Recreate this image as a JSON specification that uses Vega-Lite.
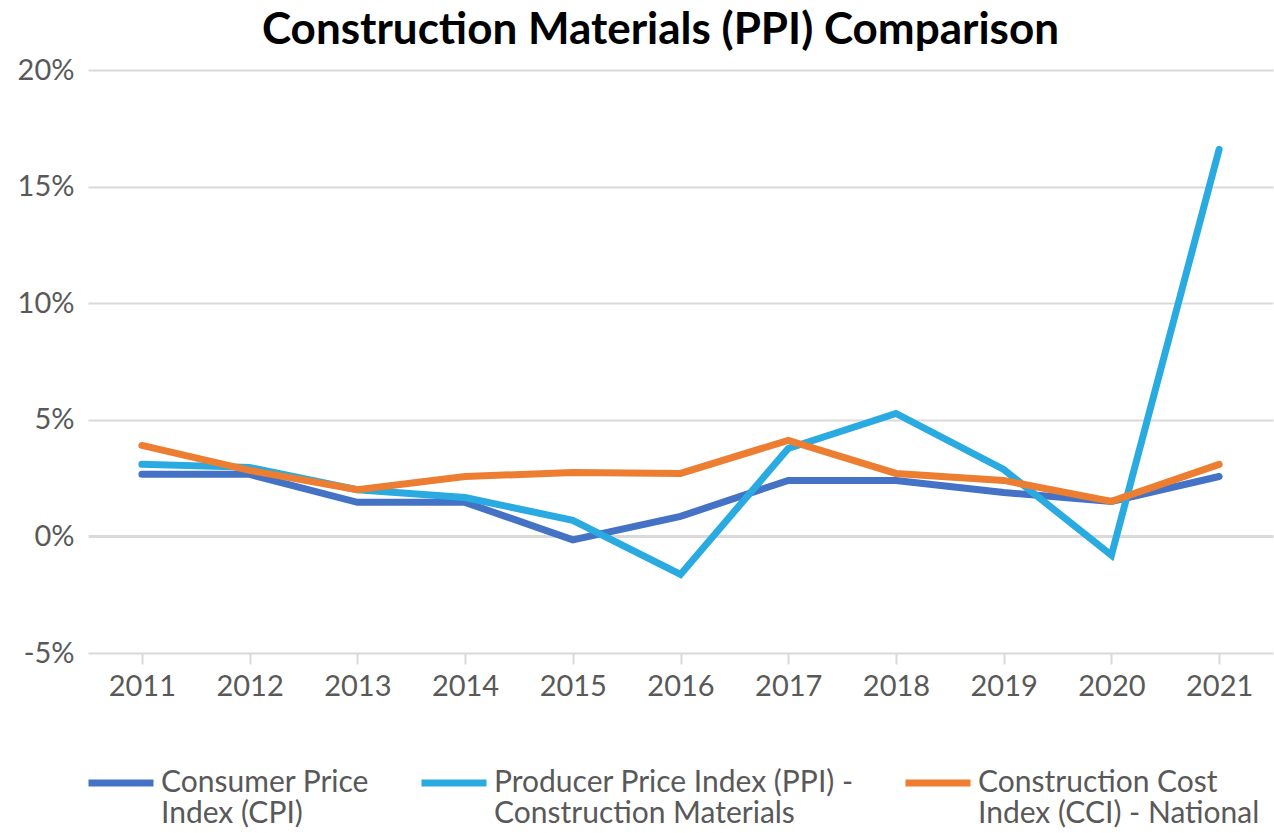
{
  "$schema": "https://vega.github.io/schema/vega-lite/v6.json",
  "width": 1185,
  "height": 583,
  "autosize": "none",
  "padding": {"left": 88, "top": 70, "right": 1, "bottom": 180},
  "background": "white",
  "config": {
    "view": {"stroke": null},
    "style": {"guide-label": {"lineHeight": 31}}
  },
  "title": {
    "text": "Construction Materials (PPI) Comparison",
    "font": "Lato",
    "fontSize": 44,
    "fontWeight": "bold",
    "color": "#000000",
    "anchor": "middle",
    "offset": 3,
    "dx": -20
  },
  "data": {
    "values": [
      {"year": "2011", "series": "Consumer Price|Index (CPI)", "value": 2.66},
      {"year": "2012", "series": "Consumer Price|Index (CPI)", "value": 2.66},
      {"year": "2013", "series": "Consumer Price|Index (CPI)", "value": 1.46},
      {"year": "2014", "series": "Consumer Price|Index (CPI)", "value": 1.46},
      {"year": "2015", "series": "Consumer Price|Index (CPI)", "value": -0.15},
      {"year": "2016", "series": "Consumer Price|Index (CPI)", "value": 0.86},
      {"year": "2017", "series": "Consumer Price|Index (CPI)", "value": 2.4},
      {"year": "2018", "series": "Consumer Price|Index (CPI)", "value": 2.4},
      {"year": "2019", "series": "Consumer Price|Index (CPI)", "value": 1.88},
      {"year": "2020", "series": "Consumer Price|Index (CPI)", "value": 1.5},
      {"year": "2021", "series": "Consumer Price|Index (CPI)", "value": 2.57},
      {"year": "2011", "series": "Producer Price Index (PPI) -|Construction Materials", "value": 3.09},
      {"year": "2012", "series": "Producer Price Index (PPI) -|Construction Materials", "value": 2.96},
      {"year": "2013", "series": "Producer Price Index (PPI) -|Construction Materials", "value": 2.0},
      {"year": "2014", "series": "Producer Price Index (PPI) -|Construction Materials", "value": 1.67},
      {"year": "2015", "series": "Producer Price Index (PPI) -|Construction Materials", "value": 0.69},
      {"year": "2016", "series": "Producer Price Index (PPI) -|Construction Materials", "value": -1.63},
      {"year": "2017", "series": "Producer Price Index (PPI) -|Construction Materials", "value": 3.77},
      {"year": "2018", "series": "Producer Price Index (PPI) -|Construction Materials", "value": 5.27},
      {"year": "2019", "series": "Producer Price Index (PPI) -|Construction Materials", "value": 2.87},
      {"year": "2020", "series": "Producer Price Index (PPI) -|Construction Materials", "value": -0.81},
      {"year": "2021", "series": "Producer Price Index (PPI) -|Construction Materials", "value": 16.6},
      {"year": "2011", "series": "Construction Cost|Index (CCI) - National", "value": 3.9},
      {"year": "2012", "series": "Construction Cost|Index (CCI) - National", "value": 2.83},
      {"year": "2013", "series": "Construction Cost|Index (CCI) - National", "value": 2.0},
      {"year": "2014", "series": "Construction Cost|Index (CCI) - National", "value": 2.57},
      {"year": "2015", "series": "Construction Cost|Index (CCI) - National", "value": 2.74},
      {"year": "2016", "series": "Construction Cost|Index (CCI) - National", "value": 2.7},
      {"year": "2017", "series": "Construction Cost|Index (CCI) - National", "value": 4.12},
      {"year": "2018", "series": "Construction Cost|Index (CCI) - National", "value": 2.7},
      {"year": "2019", "series": "Construction Cost|Index (CCI) - National", "value": 2.4},
      {"year": "2020", "series": "Construction Cost|Index (CCI) - National", "value": 1.5},
      {"year": "2021", "series": "Construction Cost|Index (CCI) - National", "value": 3.09}
    ]
  },
  "mark": {"type": "line", "strokeWidth": 7, "strokeCap": "round", "strokeJoin": "miter"},
  "encoding": {
    "x": {
      "field": "year",
      "type": "ordinal",
      "scale": {"type": "point", "padding": 0.5},
      "axis": {
        "title": null,
        "labelAngle": 0,
        "labelFont": "Lato",
        "labelFontSize": 29,
        "labelColor": "#595959",
        "labelPadding": 8,
        "domain": false,
        "ticks": true,
        "tickColor": "#d9d9d9",
        "tickWidth": 2,
        "tickSize": 11,
        "grid": false
      }
    },
    "y": {
      "field": "value",
      "type": "quantitative",
      "scale": {"domain": [-5, 20], "nice": false, "zero": false},
      "axis": {
        "title": null,
        "values": [-5, 0, 5, 10, 15, 20],
        "labelExpr": "datum.value + '%'",
        "labelFont": "Lato",
        "labelFontSize": 29,
        "labelColor": "#595959",
        "labelPadding": 14,
        "domain": false,
        "ticks": false,
        "grid": true,
        "gridColor": "#d9d9d9",
        "gridWidth": {"condition": {"test": "datum.value === 0", "value": 3}, "value": 2}
      }
    },
    "color": {
      "field": "series",
      "type": "nominal",
      "sort": [
        "Consumer Price|Index (CPI)",
        "Producer Price Index (PPI) -|Construction Materials",
        "Construction Cost|Index (CCI) - National"
      ],
      "scale": {
        "domain": [
          "Consumer Price|Index (CPI)",
          "Producer Price Index (PPI) -|Construction Materials",
          "Construction Cost|Index (CCI) - National"
        ],
        "range": ["#4472C4", "#29ABE2", "#ED7D31"]
      },
      "legend": {
        "title": null,
        "orient": "none",
        "direction": "horizontal",
        "legendX": -3,
        "legendY": 677,
        "symbolType": "stroke",
        "symbolSize": 4225,
        "symbolStrokeWidth": 7,
        "labelExpr": "split(datum.label, '|')",
        "labelFont": "Lato",
        "labelFontSize": 30,
        "labelColor": "#595959",
        "labelLimit": 500,
        "labelOffset": 4,
        "columnPadding": 37,
        "labelBaseline": "middle"
      }
    }
  }
}
